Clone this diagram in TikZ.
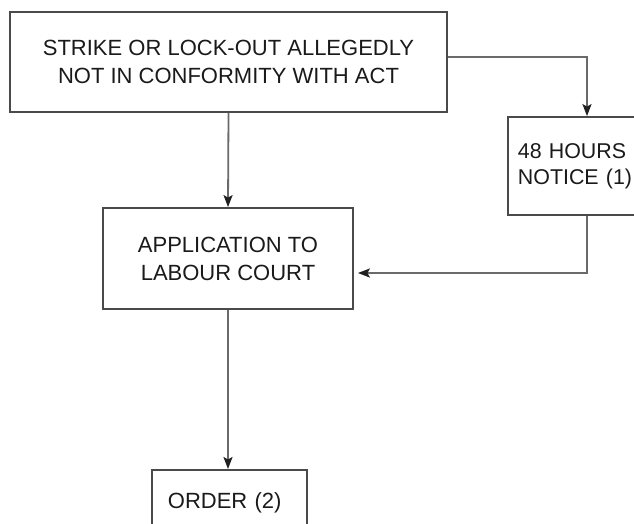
\documentclass[tikz,border=0pt]{standalone}
\usepackage{fontspec}
\setmainfont{Liberation Sans}
\usetikzlibrary{arrows.meta}
\definecolor{boxline}{HTML}{4A4A4A}
\definecolor{connline}{HTML}{6A6A6A}
\definecolor{tipcol}{HTML}{202020}
\definecolor{txt}{HTML}{1A1A1A}
\tikzset{
  box/.style={draw=boxline, line width=1.8pt, fill=white, text=txt, align=center, inner sep=0pt},
  conn/.style={draw=connline, line width=1.8pt, -{Stealth[length=12pt,width=9pt,inset=2.5pt,color=tipcol]}}
}
\begin{document}
\begin{tikzpicture}[x=1pt,y=-1pt,font=\fontsize{22}{28}\selectfont]
\useasboundingbox (0,0) rectangle (634,523);
\clip (0,0) rectangle (634,523);
\fill[white] (0,0) rectangle (634,523);
\node[box, minimum width=437pt, minimum height=100pt] (strike) at (228.5,62) {STRIKE OR LOCK-OUT ALLEGEDLY\\NOT IN CONFORMITY WITH ACT};
\node[box, minimum width=250pt, minimum height=101pt] (app) at (228,258.5) {APPLICATION TO\\LABOUR COURT};
\node[box, align=left, anchor=west, text width=140pt, inner xsep=10pt, minimum height=98pt, font=\fontsize{21.4}{26}\selectfont] (notice) at (507,166) {48 HOURS\\NOTICE (1)};
\node[box, align=left, anchor=north west, text width=123pt, inner xsep=16pt, minimum height=66pt] (order) at (151,469) {ORDER (2)};
\coordinate (k1) at (587,57);
\coordinate (k2) at (587,273);
\draw[conn] (strike.south) -- (app.north);
\draw[conn] (strike.east |- k1) -- (k1) -- (k1 |- notice.north);
\draw[conn, shorten >=4pt] (k1 |- notice.south) -- (k2) -- (app.east |- k2);
\draw[conn] (app.south) -- (app.south |- order.north);
\end{tikzpicture}
\end{document}
